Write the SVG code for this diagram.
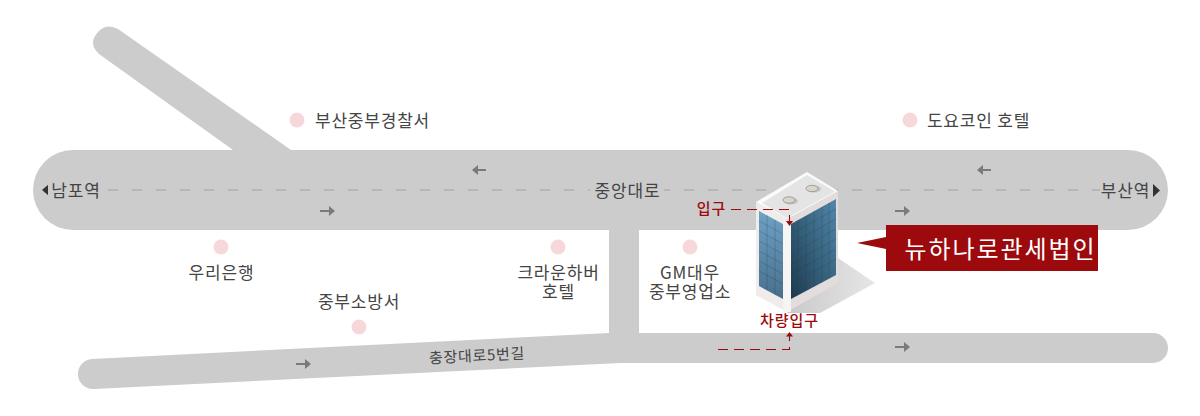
<svg xmlns="http://www.w3.org/2000/svg" width="1200" height="416" viewBox="0 0 1200 416">
<defs>
<style>
text{font-family:"Noto Sans CJK KR","Liberation Sans",sans-serif;font-size:17px;letter-spacing:.8px;fill:#444;text-anchor:middle}
.rd{fill:#cccccc}
.dot{fill:#f7d8da}
.ar{fill:none;stroke:#7a7a7a;stroke-width:2}
.ah{fill:#7a7a7a}
text.red{fill:#9c0a0e;font-weight:500;font-size:15px;letter-spacing:1px}
.rl{fill:none;stroke:#9c0a0e;stroke-width:1.1}
.gl{stroke:#1d3c52;stroke-width:.6;opacity:.4;fill:none}
</style>
<linearGradient id="gL" x1="0" y1="0" x2="0" y2="1"><stop offset="0" stop-color="#6fa2c6"/><stop offset="1" stop-color="#476f8c"/></linearGradient>
<linearGradient id="gR" x1="1" y1="0" x2="0" y2="1"><stop offset="0" stop-color="#5288ab"/><stop offset="1" stop-color="#1c3a4e"/></linearGradient>
<linearGradient id="gS" x1="0" y1="0" x2="1" y2="0"><stop offset="0" stop-color="#c9c9c9"/><stop offset="1" stop-color="#e6e6e6"/></linearGradient>
</defs>
<g id="roads">
<path class="rd" d="M99 31Q107 23 118 29L291 150H1128a40 40 0 0 1 0 80H639V333H1153a15 15 0 0 1 0 30H620L94 389a15 15 0 0 1 -2 -30L609 333V230H73a40 40 0 0 1 0 -80H233L99 54Q87 43 99 31Z"/>
</g>
<g id="connectors">
<path d="M108 190H1100" fill="none" stroke="#a0a0a0" stroke-width="1" stroke-dasharray="10 14"/>
<g class="ar"><path d="M473 170H486"/><path d="M978 170H991"/><path d="M320 211H333"/><path d="M895 211H908"/><path d="M296 364H309"/><path d="M895 347H908"/></g>
<g class="ah"><path d="M472 170L478 165V175Z"/><path d="M977 170L983 165V175Z"/><path d="M335 211L329 206V216Z"/><path d="M910 211L904 206V216Z"/><path d="M311 364L305 359V369Z"/><path d="M910 347L904 342V352Z"/></g>
<path d="M49 184V196L42 190Z" fill="#333"/><path d="M1153 184V197L1160 190.500Z" fill="#333"/>
</g>
<g id="label-nampo"><rect x="48" y="180" width="56" height="20" fill="#cccccc"/><text x="76" y="197">남포역</text></g>
<g id="label-busan"><text x="1125.500" y="197">부산역</text></g>
<g id="label-jungang"><rect x="590" y="180" width="74" height="20" fill="#cccccc"/><text x="627.500" y="197">중앙대로</text></g>
<g id="label-road5"><text x="477" y="361" transform="rotate(-3 477 356)" style="font-size:15px;letter-spacing:.7px">충장대로5번길</text></g>
<g id="poi-police"><circle class="dot" cx="297" cy="120" r="7.500"/><text x="372.500" y="127">부산중부경찰서</text></g>
<g id="poi-toyoko"><circle class="dot" cx="910" cy="120" r="7.500"/><text x="978.500" y="127">도요코인 호텔</text></g>
<g id="poi-woori"><circle class="dot" cx="221" cy="247" r="7.500"/><text x="221.500" y="279">우리은행</text></g>
<g id="poi-fire"><text x="359" y="308">중부소방서</text><circle class="dot" cx="359" cy="327" r="7.500"/></g>
<g id="poi-crown"><circle class="dot" cx="558" cy="247" r="7.500"/><text x="558.500" y="279">크라운하버</text><text x="558.500" y="298">호텔</text></g>
<g id="poi-gm"><circle class="dot" cx="690" cy="247" r="7.500"/><text x="690" y="279">GM대우</text><text x="690" y="298">중부영업소</text></g>
<g id="building">
<path d="M838 258L875 283L820 313H787Z" fill="url(#gS)"/>
<path d="M756 202L787 219V312L756 295Z" fill="#f0ecec"/>
<path d="M787 219L838 191V283L787 312Z" fill="#e2dcdc"/>
<path d="M787 222V312" stroke="#f7f4f4" stroke-width="8"/>
<path d="M807 172L838 191L787 219L756 202Z" fill="#fbfbfb"/>
<path d="M807 175L835 191.500L787 218L762 203Z" fill="#e4e4e4"/>
<path d="M759 211L783 224V299L759 286Z" fill="url(#gL)"/>
<path d="M791 224L836 199V275L791 299Z" fill="url(#gR)"/>
<path class="gl" d="M759 221L783 234M759 231L783 244M759 241L783 254M759 251L783 264M759 261L783 274M759 271L783 284M767 215V290M775 220V295"/>
<path class="gl" d="M791 234L836 209M791 244L836 219M791 254L836 229M791 264L836 239M791 274L836 249M791 284L836 259M798 220V295M806 216V291M814 211V287M822 207V283M829 203V279"/>
<ellipse cx="791" cy="201" rx="7" ry="3.500" fill="#c4c4c4"/>
<ellipse cx="814" cy="189" rx="7" ry="3.500" fill="#c4c4c4"/>
<ellipse cx="789" cy="200" rx="6" ry="3.200" fill="#d9d4cc" stroke="#8f8f8f" stroke-width=".8"/>
<ellipse cx="812" cy="188.500" rx="6" ry="3.200" fill="#d9d4cc" stroke="#8f8f8f" stroke-width=".8"/>
</g>
<g id="entrance">
<text class="red" x="711.500" y="214">입구</text>
<path class="rl" stroke-dasharray="10 6" d="M731 209.500H789.500V222"/>
<path d="M786 221H793L789.500 226Z" fill="#9c0a0e"/>
</g>
<g id="car-entrance">
<text class="red" x="789.500" y="326">차량입구</text>
<path class="rl" stroke-dasharray="10 6" d="M718 349.500H789.500V336"/>
<path d="M786 336.500H793L789.500 332Z" fill="#9c0a0e"/>
</g>
<g id="callout">
<path d="M857 243L886 237V225H1098V271H886V249Z" fill="#9c0a0e"/>
<text x="1000.500" y="258" style="fill:#fff;font-size:24px;letter-spacing:1.900px">뉴하나로관세법인</text>
</g>
</svg>
